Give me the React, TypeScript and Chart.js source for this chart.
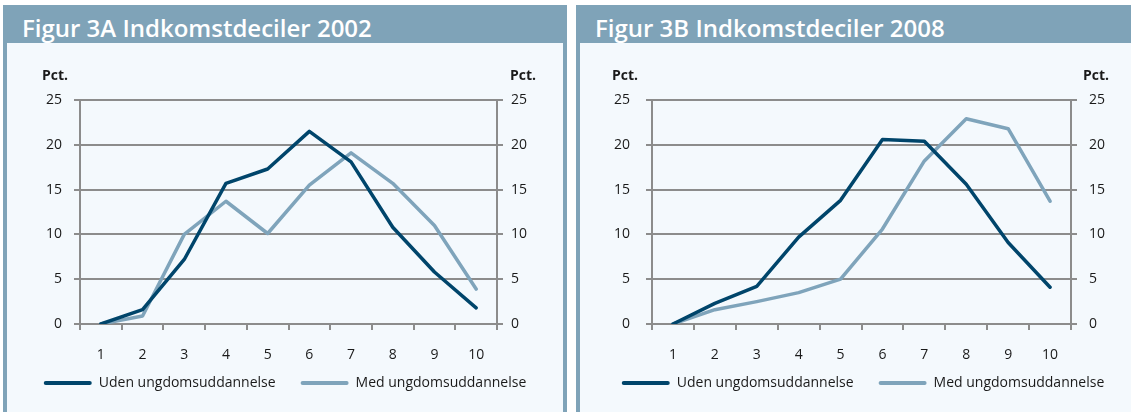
import React, { useEffect, useRef } from "react";
import { Chart, registerables } from "chart.js";

Chart.register(...registerables);

// ---- data ----
const categories = ["1", "2", "3", "4", "5", "6", "7", "8", "9", "10"];
const udenA = [0, 1.6, 7.2, 15.7, 17.3, 21.5, 18.1, 10.8, 5.8, 1.8];
const medA = [0, 0.9, 10.0, 13.7, 10.1, 15.5, 19.1, 15.7, 11.0, 3.9];
const udenB = [0, 2.3, 4.2, 9.7, 13.8, 20.6, 20.4, 15.6, 9.1, 4.1];
const medB = [0, 1.6, 2.5, 3.5, 5.0, 10.6, 18.2, 22.9, 21.8, 13.7];
const yMin = 0;
const yMax = 25;
const yStep = 5;
const seriesLabels = ["Uden ungdomsuddannelse", "Med ungdomsuddannelse"];
const titles = ["Figur 3A Indkomstdeciler 2002", "Figur 3B Indkomstdeciler 2008"];
const unitLabel = "Pct.";

// ---- styles ----
const HEADER = "#7fa3b8";
const BODY_BG = "#f4f9fd";
const DARK = "#00456b";
const LIGHT = "#7fa4bb";
const GRID = "#8c8c8c";
const TEXT = "#1a1a1a";
const FONT = "'Open Sans', 'Noto Sans', sans-serif";
const CANVAS_H = 370;
const LEGEND_SHIFT = 13;

const legendShift = {
  id: "legendShift",
  beforeDraw(chart: any) {
    const lg = chart.legend;
    if (lg && !lg._shifted) {
      lg.top -= LEGEND_SHIFT;
      lg.bottom -= LEGEND_SHIFT;
      lg._shifted = true;
    }
  },
};

type PanelProps = {
  left: number;
  width: number;
  title: string;
  uden: number[];
  med: number[];
  canvasWidth: number;
  leftAxisWidth: number;
  rightAxisWidth: number;
  leftPad: number;
  rightPad: number;
  pctLeft: number;
  pctRight: number;
};

function Panel(p: PanelProps) {
  const ref = useRef<HTMLCanvasElement | null>(null);

  useEffect(() => {
    if (!ref.current) return;
    const tickFont = { family: FONT, size: 14 };
    const chart = new Chart(ref.current, {
      type: "line",
      plugins: [legendShift],
      data: {
        labels: categories,
        datasets: [
          {
            label: seriesLabels[0],
            data: p.uden,
            borderColor: DARK,
            backgroundColor: DARK,
            borderWidth: 3.5,
            pointRadius: 0,
            tension: 0,
            borderJoinStyle: "round",
            borderCapStyle: "round",
            yAxisID: "y",
          },
          {
            label: seriesLabels[1],
            data: p.med,
            borderColor: LIGHT,
            backgroundColor: LIGHT,
            borderWidth: 3.5,
            pointRadius: 0,
            tension: 0,
            borderJoinStyle: "round",
            borderCapStyle: "round",
            yAxisID: "y",
          },
        ],
      },
      options: {
        animation: false,
        responsive: false,
        devicePixelRatio: 1,
        layout: { padding: { top: 57, left: 0, right: 0, bottom: 0 } },
        plugins: {
          tooltip: { enabled: false },
          legend: {
            position: "bottom",
            labels: {
              boxWidth: 48,
              boxHeight: 4,
              padding: 25,
              color: TEXT,
              font: { family: FONT, size: 14 },
              useBorderRadius: true,
              borderRadius: 2,
              generateLabels: (c: any) =>
                (Chart.defaults.plugins.legend.labels as any)
                  .generateLabels(c)
                  .map((l: any) => ({ ...l, lineWidth: 0 })),
            },
          },
        },
        scales: {
          x: {
            type: "category",
            offset: true,
            grid: {
              offset: true,
              drawOnChartArea: false,
              color: GRID,
              lineWidth: 2,
              tickLength: 6,
            },
            border: { display: true, color: GRID, width: 2 },
            ticks: { padding: 17, color: TEXT, font: tickFont, maxRotation: 0 },
            afterFit: (s: any) => {
              s.height = 40;
            },
          },
          y: {
            position: "left",
            min: yMin,
            max: yMax,
            ticks: { stepSize: yStep, padding: p.leftPad, color: TEXT, font: tickFont },
            grid: { color: GRID, lineWidth: 2, tickLength: 6 },
            border: { display: true, color: GRID, width: 2 },
            afterFit: (s: any) => {
              s.width = p.leftAxisWidth;
            },
          },
          y2: {
            position: "right",
            min: yMin,
            max: yMax,
            ticks: { stepSize: yStep, padding: p.rightPad, color: TEXT, font: tickFont },
            grid: { drawOnChartArea: false, color: GRID, lineWidth: 2, tickLength: 6 },
            border: { display: true, color: GRID, width: 2 },
            afterFit: (s: any) => {
              s.width = p.rightAxisWidth;
            },
          },
        },
      } as any,
    });
    return () => chart.destroy();
  }, []);

  const pctStyle: React.CSSProperties = {
    position: "absolute",
    top: 24,
    font: `bold 14px ${FONT}`,
    lineHeight: "16px",
    color: TEXT,
    whiteSpace: "nowrap",
  };

  return (
    <div
      style={{
        position: "absolute",
        left: p.left,
        top: 5,
        width: p.width,
        height: 430,
        background: HEADER,
      }}
    >
      <div
        style={{
          position: "absolute",
          left: 19,
          top: 11,
          color: "#ffffff",
          font: `600 24px ${FONT}`,
          lineHeight: "24px",
          whiteSpace: "nowrap",
        }}
      >
        {p.title}
      </div>
      <div
        style={{
          position: "absolute",
          left: 4,
          top: 38,
          width: p.width - 8,
          height: 400,
          background: BODY_BG,
          overflow: "hidden",
        }}
      >
        <canvas
          ref={ref}
          width={p.canvasWidth}
          height={CANVAS_H}
          style={{ position: "absolute", left: 0, top: 0, width: p.canvasWidth, height: CANVAS_H }}
        />
        <div style={{ ...pctStyle, left: p.pctLeft }}>{unitLabel}</div>
        <div style={{ ...pctStyle, left: p.pctRight }}>{unitLabel}</div>
      </div>
    </div>
  );
}

export default function App() {
  return (
    <div
      style={{
        position: "absolute",
        left: 0,
        top: 0,
        width: 1131,
        height: 412,
        overflow: "hidden",
        background: "#ffffff",
      }}
    >
      <Panel
        left={3}
        width={564}
        title={titles[0]}
        uden={udenA}
        med={medA}
        canvasWidth={556}
        leftAxisWidth={73}
        rightAxisWidth={66}
        leftPad={12}
        rightPad={8}
        pctLeft={35}
        pctRight={503}
      />
      <Panel
        left={576}
        width={600}
        title={titles[1]}
        uden={udenB}
        med={medB}
        canvasWidth={566}
        leftAxisWidth={72}
        rightAxisWidth={75}
        leftPad={16}
        rightPad={12}
        pctLeft={32}
        pctRight={503}
      />
    </div>
  );
}
